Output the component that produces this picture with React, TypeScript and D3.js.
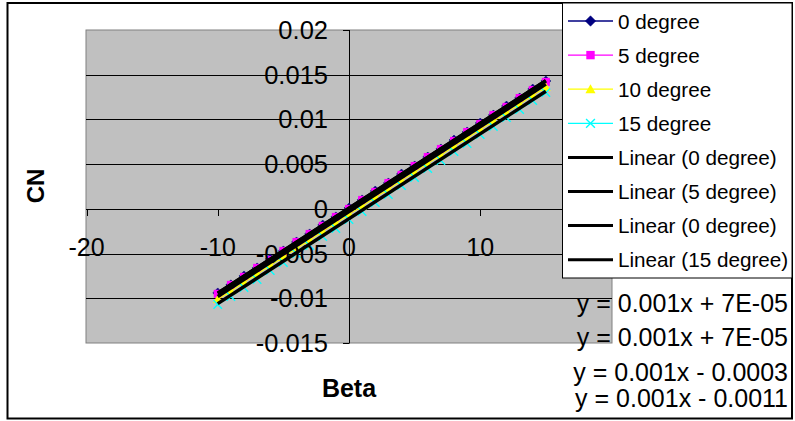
import React from "react";
import * as d3 from "d3";

const betas = [-10, -9, -8, -7, -6, -5, -4, -3, -2, -1, 0, 1, 2, 3, 4, 5, 6, 7, 8, 9, 10, 11, 12, 13, 14, 15];
const deg0 = [-0.0094, -0.0085, -0.0075, -0.0066, -0.0056, -0.0047, -0.0037, -0.0028, -0.0018, -0.0009, 0.0001, 0.0010, 0.0020, 0.0029, 0.0039, 0.0048, 0.0058, 0.0067, 0.0077, 0.0086, 0.0096, 0.0105, 0.0115, 0.0124, 0.0134, 0.0143];
const deg5 = [-0.0095, -0.0085, -0.0076, -0.0066, -0.0057, -0.0047, -0.0037, -0.0028, -0.0019, -0.0009, 0.0000, 0.0010, 0.0019, 0.0029, 0.0038, 0.0048, 0.0058, 0.0067, 0.0076, 0.0086, 0.0095, 0.0105, 0.0114, 0.0124, 0.0133, 0.0142];
const deg10 = [-0.0101, -0.0092, -0.0082, -0.0073, -0.0063, -0.0054, -0.0044, -0.0035, -0.0025, -0.0016, -0.0006, 0.0003, 0.0013, 0.0022, 0.0032, 0.0041, 0.0051, 0.0060, 0.0070, 0.0079, 0.0089, 0.0098, 0.0108, 0.0117, 0.0127, 0.0136];
const deg15 = [-0.0107, -0.0098, -0.0088, -0.0079, -0.0069, -0.0060, -0.0050, -0.0041, -0.0031, -0.0022, -0.0012, -0.0003, 0.0007, 0.0016, 0.0026, 0.0035, 0.0045, 0.0054, 0.0064, 0.0073, 0.0083, 0.0092, 0.0102, 0.0111, 0.0121, 0.0130];

const seriesNames = ["0 degree", "5 degree", "10 degree", "15 degree"];
const seriesColors = ["#000080", "#FF00FF", "#FFFF00", "#00FFFF"];
const seriesMarkers = ["diamond", "square", "triangle", "cross"];
const trendNames = ["Linear (0 degree)", "Linear (5 degree)", "Linear (0 degree)", "Linear (15 degree)"];
const trendSlopes = [0.00095, 0.00095, 0.00095, 0.00095];
const trendIntercepts = [0.00007, 0.00007, -0.0003, -0.0011];
const equations = ["y = 0.001x + 7E-05", "y = 0.001x + 7E-05", "y = 0.001x - 0.0003", "y = 0.001x - 0.0011"];
const xTicks = [-20, -10, 0, 10, 20];
const xTickLabels = ["-20", "-10", "0", "10", ""];
const yTicks = [-0.015, -0.01, -0.005, 0, 0.005, 0.01, 0.015, 0.02];
const yTickLabels = ["-0.015", "-0.01", "-0.005", "0", "0.005", "0.01", "0.015", "0.02"];

const FONT = "'Liberation Sans', Arial, sans-serif";

function Marker({ type, x, y, color, scale = 1 }: { type: string; x: number; y: number; color: string; scale?: number }) {
  if (type === "diamond") {
    const s = 5 * scale;
    return <path d={`M${x},${y - s}L${x + s},${y}L${x},${y + s}L${x - s},${y}Z`} fill={color} stroke={color} strokeWidth={0.5} />;
  }
  if (type === "square") {
    const s = 4 * scale;
    return <rect x={x - s} y={y - s} width={2 * s} height={2 * s} fill={color} />;
  }
  if (type === "triangle") {
    const s = 4.8 * scale;
    return <path d={`M${x},${y - s}L${x + s},${y + s * 0.8}L${x - s},${y + s * 0.8}Z`} fill={color} />;
  }
  const s = 4.2 * scale;
  return (
    <path d={`M${x - s},${y - s}L${x + s},${y + s}M${x - s},${y + s}L${x + s},${y - s}`} stroke={color} strokeWidth={1.4} fill="none" />
  );
}

export default function App() {
  const x = d3.scaleLinear().domain([-20, 20]).range([86.5, 611.5]);
  const y = d3.scaleLinear().domain([-0.015, 0.02]).range([343, 30]);
  const allSeries = [deg0, deg5, deg10, deg15];
  const line = d3
    .line<number>()
    .x((_, i) => x(betas[i]))
    .y((d) => y(d));
  const xMin = d3.min(betas)!;
  const xMax = d3.max(betas)!;
  const x0 = x(0);
  const y0 = y(0);

  const legendX = 562;
  const legendY = 3;
  const legendRow = 34.1;
  const legendFirst = 21;

  return (
    <svg width={795} height={421} style={{ position: "absolute", left: 0, top: 0, background: "#fff" }} fontFamily={FONT}>
      <rect x={7.5} y={3} width={784.5} height={415.5} fill="#fff" stroke="#000" strokeWidth={2} />
      {/* plot area */}
      <rect x={86} y={30} width={526} height={313} fill="#C0C0C0" stroke="#808080" strokeWidth={1} />
      {yTicks
        .filter((t) => t > -0.015 && t < 0.02)
        .map((t) => (
          <line key={"g" + t} x1={86} x2={612} y1={Math.round(y(t)) + 0.5} y2={Math.round(y(t)) + 0.5} stroke="#000" strokeWidth={1} />
        ))}
      {/* axes */}
      <line x1={Math.round(x0) + 0.5} x2={Math.round(x0) + 0.5} y1={30} y2={343} stroke="#000" />
      <line x1={86} x2={612} y1={Math.round(y0) + 0.5} y2={Math.round(y0) + 0.5} stroke="#000" />
      {yTicks.map((t) => (
        <line key={"yt" + t} x1={Math.round(x0) - 6} x2={Math.round(x0) + 0.5} y1={Math.round(y(t)) + 0.5} y2={Math.round(y(t)) + 0.5} stroke="#000" />
      ))}
      {xTicks.map((t) => (
        <line key={"xt" + t} x1={Math.round(x(t)) + 0.5} x2={Math.round(x(t)) + 0.5} y1={Math.round(y0)} y2={Math.round(y0) + 7} stroke="#000" />
      ))}
      {/* series */}
      {allSeries.map((s, k) => (
        <g key={"s" + k}>
          <path d={line(s)!} fill="none" stroke={seriesColors[k]} strokeWidth={1.2} />
          {s.map((v, i) => (
            <Marker key={i} type={seriesMarkers[k]} x={x(betas[i])} y={y(v)} color={seriesColors[k]} />
          ))}
        </g>
      ))}
      {/* trendlines */}
      {trendSlopes.map((m, k) => {
        const b = trendIntercepts[k];
        return (
          <line
            key={"tr" + k}
            x1={x(xMin)}
            y1={y(m * xMin + b)}
            x2={x(xMax)}
            y2={y(m * xMax + b)}
            stroke="#000"
            strokeWidth={3.5}
          />
        );
      })}
      {/* tick labels */}
      {yTicks.map((t, i) => (
        <text key={"yl" + t} x={328} y={y(t) + 9} textAnchor="end" fontSize={25.5} fill="#000">
          {yTickLabels[i]}
        </text>
      ))}
      {xTicks.map((t, i) => (
        <text key={"xl" + t} x={x(t)} y={y0 + 47} textAnchor="middle" fontSize={25} fill="#000">
          {xTickLabels[i]}
        </text>
      ))}
      {/* axis titles */}
      <text x={349} y={397} textAnchor="middle" fontSize={25} fontWeight="bold">
        Beta
      </text>
      <text transform="translate(44,186) rotate(-90)" textAnchor="middle" fontSize={24} fontWeight="bold">
        CN
      </text>
      {/* legend */}
      <rect x={legendX + 0.5} y={legendY} width={229.5} height={275} fill="#fff" stroke="#000" strokeWidth={1} />
      {seriesNames.map((n, k) => {
        const cy = legendFirst + k * legendRow;
        return (
          <g key={"ls" + k}>
            <line x1={568} x2={613} y1={cy} y2={cy} stroke={seriesColors[k]} strokeWidth={1.3} />
            <Marker type={seriesMarkers[k]} x={590.5} y={cy} color={seriesColors[k]} scale={1.05} />
            <text x={618} y={cy + 7.5} fontSize={20.7}>
              {n}
            </text>
          </g>
        );
      })}
      {trendNames.map((n, k) => {
        const cy = legendFirst + (k + 4) * legendRow;
        return (
          <g key={"lt" + k}>
            <line x1={568} x2={613} y1={cy} y2={cy} stroke="#000" strokeWidth={3} />
            <text x={618} y={cy + 7.5} fontSize={20.7}>
              {n}
            </text>
          </g>
        );
      })}
      {/* equations */}
      {equations.map((e, k) => (
        <text key={"eq" + k} x={788} y={[312, 346, 381, 407][k]} textAnchor="end" fontSize={25}>
          {e}
        </text>
      ))}
    </svg>
  );
}
